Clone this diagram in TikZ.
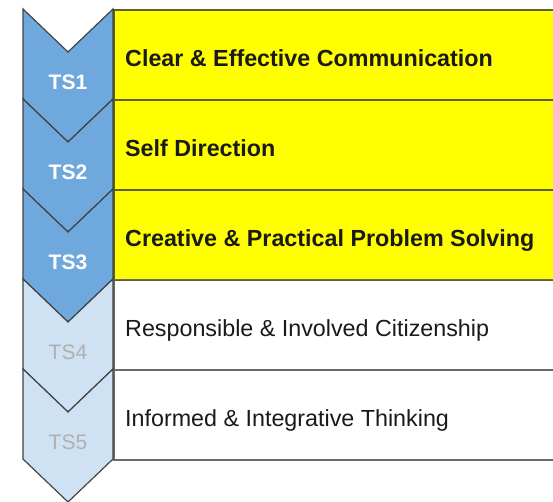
\documentclass[tikz,border=0pt]{standalone}
\usepackage{fontspec}
\setmainfont{Liberation Sans}
\definecolor{chevdark}{HTML}{6FA8DC}
\definecolor{chevlight}{HTML}{CFE2F3}
\definecolor{outline}{HTML}{434343}
\definecolor{ybord}{HTML}{5F5F2A}
\definecolor{wbord}{HTML}{6A6A6A}
\definecolor{tsgray}{HTML}{B0B0B0}
\definecolor{txt}{HTML}{1A1A1A}
\definecolor{yfill}{HTML}{FFFF00}
\tikzset{
  chev/.style={draw=outline, line width=1.2pt, line join=miter},
  ybox/.style={draw=ybord, fill=yfill, line width=1.5pt, rectangle, minimum width=460pt, minimum height=90pt, anchor=north west, inner sep=0pt},
  wbox/.style={draw=wbord, fill=white, line width=1.5pt, rectangle, minimum width=460pt, minimum height=90pt, anchor=north west, inner sep=0pt},
  boxtxt/.style={anchor=base west, inner sep=0pt, font=\fontsize{23.3}{27}\selectfont, text=txt},
  boldtxt/.style={boxtxt, font=\fontsize{23.3}{27}\selectfont\bfseries},
  tslabel/.style={anchor=base, inner sep=0pt, font=\fontsize{21}{25}\selectfont\bfseries},
}
\begin{document}
\begin{tikzpicture}[x=1pt,y=-1pt]
\useasboundingbox (0,0) rectangle (553,501);
% boxes
\node[ybox] (b1) at (113,9) {};
\node[ybox] (b2) at (113,99) {};
\node[ybox] (b3) at (113,189) {};
\node[wbox] (b4) at (113,279) {};
\node[wbox] (b5) at (113,369) {};
\draw[draw=ybord, line width=1.5pt] (b3.south west) -- (b3.south east);
% chevrons
\foreach \i/\c in {0/chevdark,1/chevdark,2/chevdark,3/chevlight,4/chevlight}{
  \pgfmathsetmacro{\t}{9+90*\i}
  \draw[chev, fill=\c] (23,\t) -- (68,\t+43) -- (113,\t) -- (113,\t+90) -- (68,\t+133) -- (23,\t+90) -- cycle;
}
% labels
\node[tslabel, text=white] (ts1) at (68,89) {TS1};
\node[tslabel, text=white] (ts2) at (68,179) {TS2};
\node[tslabel, text=white] (ts3) at (68,269) {TS3};
\node[tslabel, text=tsgray, font=\fontsize{21}{25}\selectfont] (ts4) at (68,359) {TS4};
\node[tslabel, text=tsgray, font=\fontsize{21}{25}\selectfont] (ts5) at (68,449) {TS5};
\node[boldtxt] (t1) at (125,66.5) {Clear \& Effective Communication};
\node[boldtxt] (t2) at (125,156.5) {Self Direction};
\node[boldtxt] (t3) at (125,246.5) {Creative \& Practical Problem Solving};
\node[boxtxt] (t4) at (125,336.5) {Responsible \& Involved Citizenship};
\node[boxtxt] (t5) at (125,426.5) {Informed \& Integrative Thinking};
\end{tikzpicture}
\end{document}
